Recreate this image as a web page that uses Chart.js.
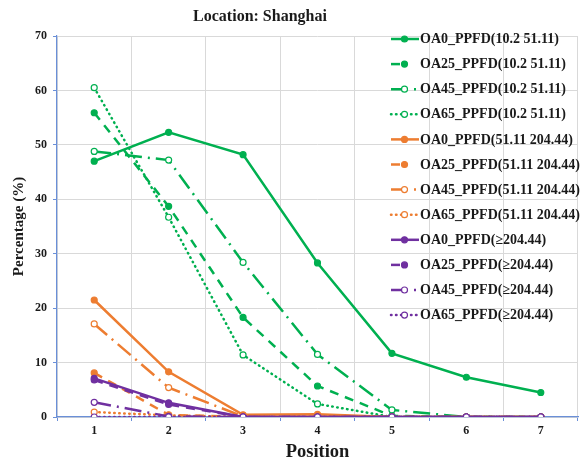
<!DOCTYPE html>
<html>
<head>
<meta charset="utf-8">
<script src="https://cdn.jsdelivr.net/npm/chart.js@4/dist/chart.umd.min.js"></script>
<style>
  html, body { margin: 0; padding: 0; background: #fff; }
  #wrap { position: relative; width: 588px; height: 461px; }
</style>
</head>
<body>
<div id="wrap"><canvas id="c" width="588" height="461"></canvas></div>
<script>
// ---- data ----
const positions = ['1', '2', '3', '4', '5', '6', '7'];
const yTicks = [0, 10, 20, 30, 40, 50, 60, 70];
const seriesNames = [
  'OA0_PPFD(10.2 51.11)', 'OA25_PPFD(10.2 51.11)', 'OA45_PPFD(10.2 51.11)', 'OA65_PPFD(10.2 51.11)',
  'OA0_PPFD(51.11 204.44)', 'OA25_PPFD(51.11 204.44)', 'OA45_PPFD(51.11 204.44)', 'OA65_PPFD(51.11 204.44)',
  'OA0_PPFD(\u2265204.44)', 'OA25_PPFD(\u2265204.44)', 'OA45_PPFD(\u2265204.44)', 'OA65_PPFD(\u2265204.44)'
];
const green_OA0  = [47.0, 52.3, 48.2, 28.3, 11.7, 7.3, 4.5];
const green_OA25 = [55.9, 38.7, 18.3, 5.7, 0.2, 0, 0];
const green_OA45 = [48.8, 47.2, 28.4, 11.5, 1.3, 0, 0];
const green_OA65 = [60.5, 36.7, 11.4, 2.4, 0, 0, 0];
const orange_OA0  = [21.5, 8.3, 0.4, 0.5, 0, 0, 0];
const orange_OA25 = [8.1, 0.4, 0, 0, 0, 0, 0];
const orange_OA45 = [17.1, 5.4, 0.1, 0, 0, 0, 0];
const orange_OA65 = [0.9, 0.3, 0, 0, 0, 0, 0];
const purple_OA0  = [7.1, 2.6, 0, 0, 0, 0, 0];
const purple_OA25 = [6.8, 2.3, 0, 0, 0, 0, 0];
const purple_OA45 = [2.7, 0.1, 0, 0, 0, 0, 0];
const purple_OA65 = [0, 0, 0, 0, 0, 0, 0];

const seriesData = [
  green_OA0, green_OA25, green_OA45, green_OA65,
  orange_OA0, orange_OA25, orange_OA45, orange_OA65,
  purple_OA0, purple_OA25, purple_OA45, purple_OA65
];

// ---- styles ----
const GREEN = '#00B050', ORANGE = '#ED7D31', PURPLE = '#7030A0';
const colors = [GREEN, GREEN, GREEN, GREEN, ORANGE, ORANGE, ORANGE, ORANGE, PURPLE, PURPLE, PURPLE, PURPLE];
const dashes = [[], [9, 7], [17, 6, 2, 6], [0.5, 4.5]];
const caps = ['butt', 'butt', 'butt', 'round'];
const filled = [true, true, false, false];
const AXIS = '#6A8FD8';
const FONT = "'Liberation Serif', 'Times New Roman', serif";

const datasets = seriesData.map((d, i) => {
  const k = i % 4;
  return {
    label: seriesNames[i],
    data: d,
    borderColor: colors[i],
    backgroundColor: colors[i],
    borderWidth: 2.5,
    borderDash: dashes[k],
    borderCapStyle: caps[k],
    pointRadius: 3,
    pointBorderWidth: 1.2,
    pointBackgroundColor: filled[k] ? colors[i] : '#ffffff',
    pointBorderColor: colors[i],
    tension: 0,
    fill: false,
    order: 20 - i
  };
});

const overlayPlugin = {
  id: 'overlay',
  afterDraw(chart) {
    const ctx = chart.ctx;
    ctx.save();
    // title
    ctx.fillStyle = '#1a1a1a';
    ctx.font = "bold 16px " + FONT;
    ctx.textAlign = 'center';
    ctx.textBaseline = 'middle';
    ctx.fillText('Location: Shanghai', 260, 17);
    // legend
    const x0 = 391, x1 = 419, xm = 404.5, tx = 420;
    ctx.font = "bold 14px " + FONT;
    ctx.textAlign = 'left';
    chart.data.datasets.forEach((ds, i) => {
      const y = 39 + i * 25.1;
      const k = i % 4;
      ctx.strokeStyle = ds.borderColor;
      ctx.lineWidth = 2.5;
      ctx.lineCap = ds.borderCapStyle;
      ctx.setLineDash(ds.borderDash);
      ctx.beginPath();
      ctx.moveTo(x0, y);
      ctx.lineTo(k === 1 ? xm : x1, y);
      ctx.stroke();
      ctx.setLineDash([]);
      ctx.beginPath();
      ctx.arc(xm, y, 3, 0, Math.PI * 2);
      ctx.fillStyle = ds.pointBackgroundColor;
      ctx.fill();
      ctx.lineWidth = 1.2;
      ctx.strokeStyle = ds.borderColor;
      ctx.stroke();
      ctx.fillStyle = '#1a1a1a';
      ctx.fillText(ds.label, tx, y + 0.5);
    });
    ctx.restore();
  }
};

new Chart(document.getElementById('c'), {
  type: 'line',
  data: { labels: positions, datasets },
  plugins: [overlayPlugin],
  options: {
    responsive: false,
    animation: false,
    devicePixelRatio: 1,
    layout: { padding: { top: 36, right: 10, left: 0, bottom: 0 } },
    plugins: { legend: { display: false }, title: { display: false }, tooltip: { enabled: false } },
    scales: {
      x: {
        type: 'category',
        offset: true,
        grid: { offset: true, color: '#D9D9D9', lineWidth: 1, tickColor: AXIS, tickLength: 4, drawTicks: true },
        border: { color: AXIS, width: 1.2 },
        ticks: { color: '#1a1a1a', font: { family: FONT, size: 12, weight: 'bold' }, padding: 3, maxRotation: 0 },
        title: { display: true, text: 'Position', color: '#1a1a1a', font: { family: FONT, size: 18.5, weight: 'bold', lineHeight: 1 }, padding: { top: 0, bottom: 0 } },
        afterFit(s) { s.height = 44; }
      },
      y: {
        min: 0, max: 70,
        afterBuildTicks(s) { s.ticks = yTicks.map(v => ({ value: v })); },
        grid: { color: '#D9D9D9', lineWidth: 1, tickColor: AXIS, tickLength: 4 },
        border: { color: AXIS, width: 1.2 },
        ticks: { color: '#1a1a1a', font: { family: FONT, size: 12, weight: 'bold' }, padding: 6 },
        title: { display: true, text: 'Percentage (%)', color: '#1a1a1a', font: { family: FONT, size: 15, weight: 'bold' }, padding: { top: 10, bottom: 0 } },
        afterFit(s) { s.width = 57; }
      }
    }
  }
});
</script>
</body>
</html>
